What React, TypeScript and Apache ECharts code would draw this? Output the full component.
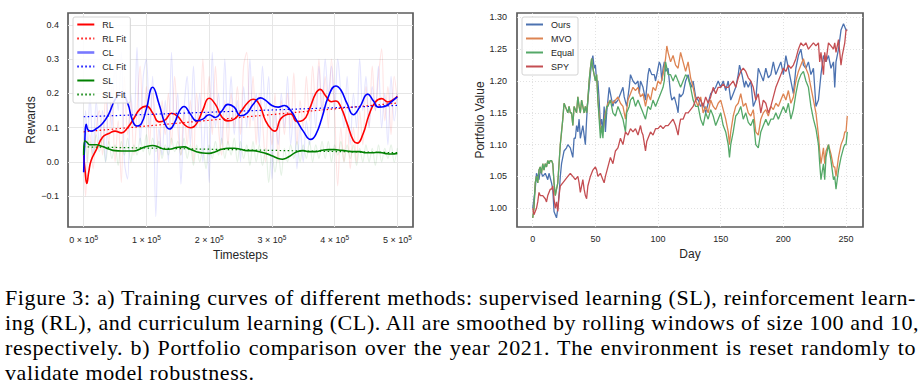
import React, { useEffect, useRef } from "react";
import * as echarts from "echarts";

document.body.style.margin = "0";

// ---------- tick labels ----------
const rewardTicks = [-0.1, 0, 0.1, 0.2, 0.3, 0.4];
const timestepTicks = [0, 100000, 200000, 300000, 400000, 500000];
const portfolioTicks = [1.0, 1.05, 1.1, 1.15, 1.2, 1.25, 1.3];
const dayTicks = [0, 50, 100, 150, 200, 250];

const leftLegend = ["RL", "RL Fit", "CL", "CL Fit", "SL", "SL Fit"];
const rightLegend = ["Ours", "MVO", "Equal", "SPY"];

// ---------- left chart: t in units of 1e5 timesteps ----------
const rlRaw = [
  [0, 0.02], [0.03, -0.1], [0.06, 0.02], [0.1, 0.08], [0.15, -0.02], [0.2, 0.1], [0.25, 0.15], [0.3, 0.02],
  [0.35, 0.2], [0.4, 0.05], [0.45, 0.22], [0.5, 0.0], [0.55, 0.12], [0.6, -0.06], [0.65, 0.25], [0.7, 0.08],
  [0.75, 0.18], [0.8, 0.02], [0.85, 0.15], [0.9, 0.28], [0.95, 0.1], [1.0, 0.22], [1.05, 0.05], [1.1, 0.2],
  [1.15, 0.12], [1.2, 0.0], [1.25, 0.18], [1.3, 0.08], [1.35, 0.2], [1.4, 0.05], [1.45, 0.25], [1.5, 0.1],
  [1.55, 0.02], [1.6, 0.15], [1.65, 0.05], [1.7, 0.18], [1.75, 0.0], [1.8, 0.2], [1.85, 0.1], [1.9, 0.3],
  [1.95, 0.12], [2.0, 0.25], [2.05, 0.08], [2.1, 0.28], [2.15, 0.1], [2.2, 0.02], [2.25, 0.18], [2.3, 0.05],
  [2.35, 0.2], [2.4, 0.1], [2.45, 0.22], [2.5, 0.08], [2.55, 0.28], [2.6, 0.32], [2.65, 0.1], [2.7, 0.25],
  [2.75, 0.05], [2.8, 0.2], [2.85, 0.12], [2.9, 0.0], [2.95, 0.15], [3.0, 0.05], [3.05, 0.2], [3.1, 0.0],
  [3.15, 0.18], [3.2, 0.08], [3.25, 0.2], [3.3, 0.1], [3.35, 0.26], [3.4, 0.05], [3.45, 0.18], [3.5, 0.1],
  [3.55, 0.25], [3.6, 0.12], [3.65, 0.28], [3.7, 0.15], [3.75, 0.3], [3.8, 0.12], [3.85, 0.25], [3.9, 0.1],
  [3.95, 0.3], [4.0, 0.15], [4.05, -0.07], [4.1, 0.1], [4.15, 0.0], [4.2, 0.12], [4.25, -0.02], [4.3, 0.1],
  [4.35, 0.0], [4.4, 0.15], [4.45, 0.05], [4.5, 0.22], [4.55, 0.1], [4.6, 0.28], [4.65, 0.15], [4.7, 0.25],
  [4.75, 0.33], [4.8, 0.12], [4.85, 0.22], [4.9, 0.08], [4.95, 0.25], [5.0, 0.18],
];
const clRaw = [
  [0, -0.03], [0.03, 0.15], [0.06, 0.05], [0.1, 0.2], [0.15, 0.02], [0.2, 0.18], [0.25, 0.05], [0.3, 0.15],
  [0.35, 0.0], [0.4, 0.25], [0.45, 0.1], [0.5, 0.3], [0.55, 0.15], [0.6, 0.32], [0.65, 0.0], [0.7, -0.05],
  [0.75, 0.2], [0.8, 0.1], [0.85, 0.335], [0.9, 0.05], [0.95, 0.25], [1.0, 0.3], [1.05, 0.1], [1.1, 0.25],
  [1.15, -0.16], [1.2, 0.1], [1.25, 0.02], [1.3, 0.18], [1.35, 0.0], [1.4, 0.32], [1.45, 0.1], [1.5, 0.2],
  [1.55, -0.065], [1.6, 0.15], [1.65, 0.25], [1.7, 0.05], [1.75, 0.28], [1.8, 0.1], [1.85, 0.2], [1.9, 0.0],
  [1.95, 0.15], [2.0, -0.06], [2.05, 0.32], [2.1, 0.1], [2.15, 0.2], [2.2, 0.05], [2.25, 0.3], [2.3, 0.1],
  [2.35, 0.25], [2.4, 0.08], [2.45, 0.18], [2.5, 0.0], [2.55, 0.22], [2.6, 0.1], [2.65, 0.3], [2.7, 0.12],
  [2.75, 0.2], [2.8, 0.05], [2.85, 0.28], [2.9, 0.15], [2.95, 0.25], [3.0, -0.05], [3.05, 0.15], [3.1, 0.05],
  [3.15, 0.2], [3.2, 0.1], [3.25, 0.25], [3.3, 0.05], [3.35, 0.15], [3.4, -0.02], [3.45, 0.1], [3.5, 0.0],
  [3.55, 0.12], [3.6, 0.05], [3.65, 0.2], [3.7, 0.1], [3.75, 0.28], [3.8, 0.15], [3.85, 0.3], [3.9, 0.2],
  [3.95, 0.28], [4.0, 0.15], [4.05, 0.3], [4.1, 0.2], [4.15, 0.1], [4.2, 0.25], [4.25, 0.05], [4.3, 0.2],
  [4.35, 0.1], [4.4, 0.3], [4.45, 0.15], [4.5, 0.25], [4.55, 0.1], [4.6, 0.22], [4.65, 0.15], [4.7, 0.28],
  [4.75, 0.1], [4.8, 0.2], [4.85, 0.05], [4.9, 0.25], [4.95, 0.12], [5.0, 0.2],
];
const slRaw = [
  [0, 0.02], [0.03, 0.07], [0.06, 0.0], [0.1, 0.06], [0.15, 0.02], [0.2, 0.08], [0.25, 0.03], [0.3, 0.07],
  [0.35, 0.0], [0.4, 0.06], [0.45, 0.01], [0.5, 0.05], [0.55, -0.01], [0.6, 0.06], [0.65, 0.02], [0.7, 0.07],
  [0.75, 0.0], [0.8, 0.05], [0.85, 0.02], [0.9, 0.07], [0.95, 0.03], [1.0, 0.08], [1.05, 0.02], [1.1, 0.07],
  [1.15, 0.03], [1.2, 0.06], [1.25, 0.01], [1.3, 0.05], [1.35, 0.02], [1.4, 0.07], [1.45, 0.03], [1.5, 0.06],
  [1.55, 0.02], [1.6, 0.07], [1.65, 0.01], [1.7, 0.05], [1.75, -0.01], [1.8, 0.05], [1.85, 0.0], [1.9, 0.04],
  [1.95, -0.02], [2.0, 0.05], [2.05, 0.01], [2.1, 0.06], [2.15, 0.02], [2.2, 0.07], [2.25, 0.01], [2.3, 0.06],
  [2.35, 0.02], [2.4, 0.07], [2.45, 0.0], [2.5, 0.06], [2.55, 0.01], [2.6, 0.05], [2.65, -0.01], [2.7, 0.06],
  [2.75, 0.0], [2.8, 0.05], [2.85, -0.01], [2.9, 0.04], [2.95, -0.06], [3.0, 0.03], [3.05, -0.03], [3.1, 0.03],
  [3.15, -0.04], [3.2, 0.04], [3.25, 0.0], [3.3, 0.05], [3.35, 0.01], [3.4, 0.06], [3.45, 0.0], [3.5, 0.05],
  [3.55, 0.01], [3.6, 0.06], [3.65, 0.0], [3.7, 0.05], [3.75, 0.01], [3.8, 0.06], [3.85, 0.01], [3.9, 0.06],
  [3.95, 0.0], [4.0, 0.05], [4.05, 0.02], [4.1, 0.06], [4.15, 0.0], [4.2, 0.05], [4.25, 0.01], [4.3, 0.05],
  [4.35, -0.01], [4.4, 0.04], [4.45, 0.0], [4.5, 0.05], [4.55, 0.0], [4.6, 0.04], [4.65, -0.01], [4.7, 0.05],
  [4.75, 0.0], [4.8, 0.04], [4.85, 0.01], [4.9, 0.05], [4.95, 0.0], [5.0, 0.04],
];
const rlSmooth = [
  [0, 0.02], [0.02, -0.02], [0.05, -0.063], [0.08, -0.03], [0.12, 0.005], [0.2, 0.035], [0.3, 0.072],
  [0.4, 0.083], [0.5, 0.09], [0.6, 0.085], [0.7, 0.1], [0.8, 0.127], [0.9, 0.155], [1.0, 0.163], [1.1, 0.143],
  [1.2, 0.117], [1.3, 0.123], [1.4, 0.142], [1.5, 0.133], [1.6, 0.11], [1.7, 0.1], [1.8, 0.112], [1.9, 0.152],
  [2.0, 0.186], [2.1, 0.168], [2.2, 0.132], [2.3, 0.12], [2.4, 0.125], [2.5, 0.145], [2.6, 0.17], [2.7, 0.183],
  [2.8, 0.168], [2.9, 0.12], [3.0, 0.094], [3.05, 0.09], [3.15, 0.128], [3.3, 0.14], [3.4, 0.118], [3.5, 0.122],
  [3.6, 0.155], [3.7, 0.2], [3.77, 0.212], [3.85, 0.195], [3.95, 0.176], [4.02, 0.178], [4.1, 0.16], [4.2, 0.112],
  [4.3, 0.062], [4.36, 0.055], [4.45, 0.08], [4.55, 0.138], [4.65, 0.175], [4.75, 0.185], [4.85, 0.175],
  [4.95, 0.184], [5.0, 0.192],
];
const clSmooth = [
  [0, -0.03], [0.02, 0.07], [0.04, 0.11], [0.07, 0.093], [0.12, 0.09], [0.2, 0.097], [0.3, 0.112], [0.4, 0.14],
  [0.5, 0.182], [0.6, 0.203], [0.7, 0.172], [0.78, 0.12], [0.85, 0.105], [0.92, 0.112], [1.0, 0.155], [1.1, 0.218],
  [1.2, 0.17], [1.3, 0.11], [1.37, 0.096], [1.45, 0.115], [1.53, 0.15], [1.6, 0.162], [1.7, 0.14], [1.8, 0.12],
  [1.9, 0.125], [2.0, 0.138], [2.1, 0.13], [2.2, 0.148], [2.3, 0.168], [2.4, 0.16], [2.5, 0.135], [2.6, 0.142],
  [2.7, 0.168], [2.82, 0.187], [2.9, 0.18], [3.0, 0.165], [3.1, 0.16], [3.2, 0.165], [3.3, 0.15], [3.4, 0.12],
  [3.5, 0.09], [3.62, 0.066], [3.7, 0.08], [3.8, 0.13], [3.9, 0.19], [4.02, 0.222], [4.1, 0.21], [4.2, 0.17],
  [4.3, 0.138], [4.4, 0.16], [4.53, 0.198], [4.62, 0.178], [4.7, 0.16], [4.8, 0.162], [4.9, 0.175], [5.0, 0.19],
];
const slSmooth = [
  [0, 0.02], [0.02, 0.062], [0.05, 0.058], [0.1, 0.05], [0.2, 0.05], [0.3, 0.045], [0.4, 0.038], [0.5, 0.033],
  [0.6, 0.032], [0.7, 0.032], [0.8, 0.032], [0.9, 0.038], [1.0, 0.045], [1.1, 0.048], [1.2, 0.043], [1.3, 0.037],
  [1.4, 0.038], [1.5, 0.043], [1.6, 0.044], [1.7, 0.037], [1.8, 0.03], [1.9, 0.026], [2.0, 0.025], [2.1, 0.03],
  [2.2, 0.037], [2.3, 0.04], [2.4, 0.04], [2.5, 0.037], [2.6, 0.033], [2.7, 0.033], [2.8, 0.03], [2.9, 0.025],
  [3.0, 0.018], [3.1, 0.01], [3.17, 0.008], [3.27, 0.015], [3.4, 0.03], [3.5, 0.033], [3.6, 0.03], [3.7, 0.03],
  [3.8, 0.034], [3.9, 0.036], [4.0, 0.036], [4.1, 0.034], [4.2, 0.032], [4.3, 0.03], [4.4, 0.03], [4.5, 0.027],
  [4.6, 0.027], [4.7, 0.028], [4.8, 0.025], [4.9, 0.023], [5.0, 0.025],
];
const rlFit = [[0, 0.088], [5, 0.172]];
const clFit = [[0, 0.132], [5, 0.165]];
const slFit = [[0, 0.044], [5, 0.027]];

// ---------- right chart: [day, portfolio value] ----------
const ours = [
  [0, 1.0], [2, 1.03], [3, 1.055], [5, 1.045], [6, 1.06], [8, 1.05], [10, 1.055], [12, 1.045], [13, 1.055],
  [15, 1.04], [16, 1.03], [17, 0.995], [18, 0.99], [19, 0.985], [20, 1.0], [21, 1.02], [22, 1.05], [23, 1.07],
  [25, 1.09], [27, 1.095], [28, 1.1], [30, 1.095], [32, 1.08], [33, 1.11], [34, 1.11], [35, 1.13], [36, 1.12],
  [37, 1.14], [38, 1.11], [40, 1.13], [42, 1.1], [43, 1.14], [44, 1.17], [45, 1.19], [46, 1.21], [47, 1.23],
  [48, 1.24], [49, 1.22], [50, 1.225], [51, 1.2], [52, 1.2], [53, 1.17], [54, 1.13], [55, 1.14], [56, 1.12],
  [57, 1.16], [58, 1.12], [59, 1.15], [60, 1.17], [61, 1.19], [62, 1.18], [64, 1.16], [65, 1.17], [66, 1.165],
  [68, 1.17], [70, 1.18], [72, 1.19], [73, 1.175], [75, 1.16], [77, 1.19], [78, 1.21], [80, 1.2], [82, 1.195],
  [84, 1.2], [85, 1.18], [86, 1.2], [88, 1.19], [90, 1.17], [92, 1.21], [93, 1.22], [95, 1.21], [97, 1.21],
  [98, 1.2], [100, 1.22], [101, 1.23], [102, 1.225], [103, 1.2], [104, 1.22], [105, 1.23], [106, 1.215],
  [108, 1.22], [110, 1.18], [111, 1.17], [113, 1.175], [115, 1.16], [116, 1.15], [117, 1.18], [118, 1.175],
  [120, 1.18], [122, 1.2], [124, 1.21], [125, 1.2], [127, 1.19], [128, 1.2], [130, 1.175], [132, 1.17],
  [134, 1.16], [136, 1.165], [138, 1.15], [140, 1.165], [142, 1.18], [144, 1.185], [146, 1.19], [148, 1.2],
  [150, 1.19], [152, 1.2], [154, 1.185], [156, 1.2], [158, 1.17], [160, 1.18], [162, 1.19], [164, 1.21],
  [165, 1.225], [167, 1.21], [169, 1.19], [170, 1.2], [172, 1.19], [174, 1.2], [176, 1.16], [178, 1.17],
  [180, 1.22], [182, 1.21], [184, 1.2], [186, 1.22], [188, 1.205], [190, 1.21], [192, 1.23], [194, 1.21],
  [196, 1.22], [198, 1.23], [200, 1.21], [202, 1.24], [204, 1.22], [206, 1.2], [208, 1.18], [210, 1.22],
  [212, 1.24], [214, 1.25], [216, 1.225], [218, 1.22], [220, 1.23], [222, 1.21], [224, 1.22], [226, 1.16],
  [228, 1.17], [230, 1.21], [232, 1.24], [234, 1.23], [236, 1.24], [238, 1.22], [240, 1.23], [241, 1.19],
  [242, 1.23], [244, 1.25], [246, 1.28], [248, 1.29], [250, 1.28], [251, 1.28],
];
const mvo = [
  [0, 0.985], [1, 1.0], [2, 1.04], [3, 1.05], [4, 1.04], [5, 1.06], [6, 1.065], [7, 1.055], [8, 1.07], [9, 1.06],
  [10, 1.07], [11, 1.065], [12, 1.075], [13, 1.07], [14, 1.075], [15, 1.075], [16, 1.07], [17, 1.04], [18, 1.02],
  [19, 1.03], [20, 1.04], [21, 1.07], [22, 1.1], [23, 1.12], [24, 1.14], [25, 1.165], [26, 1.16], [27, 1.155],
  [28, 1.15], [29, 1.16], [30, 1.15], [31, 1.15], [32, 1.13], [33, 1.16], [34, 1.155], [35, 1.15], [36, 1.175],
  [37, 1.16], [38, 1.15], [39, 1.17], [40, 1.16], [41, 1.15], [42, 1.16], [43, 1.15], [44, 1.17], [45, 1.2],
  [46, 1.22], [47, 1.235], [48, 1.22], [49, 1.21], [50, 1.2], [51, 1.21], [52, 1.17], [54, 1.125], [56, 1.12],
  [58, 1.15], [60, 1.165], [62, 1.17], [64, 1.165], [66, 1.17], [68, 1.175], [70, 1.165], [72, 1.16], [74, 1.14],
  [76, 1.17], [78, 1.18], [80, 1.19], [82, 1.185], [84, 1.19], [86, 1.175], [88, 1.18], [90, 1.16], [92, 1.18],
  [94, 1.17], [96, 1.19], [98, 1.185], [100, 1.2], [102, 1.195], [104, 1.21], [106, 1.235], [107, 1.255],
  [108, 1.245], [110, 1.23], [112, 1.24], [114, 1.225], [116, 1.22], [118, 1.245], [120, 1.23], [122, 1.215],
  [124, 1.23], [126, 1.205], [128, 1.19], [130, 1.17], [132, 1.16], [134, 1.175], [136, 1.15], [138, 1.16],
  [140, 1.15], [142, 1.17], [144, 1.16], [146, 1.155], [148, 1.165], [150, 1.17], [152, 1.155], [154, 1.14],
  [156, 1.12], [157, 1.1], [158, 1.12], [160, 1.145], [162, 1.16], [164, 1.165], [166, 1.18], [168, 1.16],
  [170, 1.165], [172, 1.15], [174, 1.145], [176, 1.155], [178, 1.12], [180, 1.115], [182, 1.14], [184, 1.15],
  [186, 1.155], [188, 1.145], [190, 1.16], [192, 1.155], [194, 1.165], [196, 1.16], [198, 1.17], [200, 1.18],
  [202, 1.17], [204, 1.185], [206, 1.165], [208, 1.175], [210, 1.2], [212, 1.215], [214, 1.225], [216, 1.235],
  [218, 1.22], [220, 1.21], [222, 1.19], [224, 1.17], [226, 1.15], [228, 1.115], [229, 1.09], [230, 1.07],
  [232, 1.095], [233, 1.07], [234, 1.09], [236, 1.1], [238, 1.085], [240, 1.065], [241, 1.065], [242, 1.05],
  [244, 1.08], [246, 1.1], [248, 1.11], [249, 1.12], [250, 1.12], [251, 1.145],
];
const equal = [
  [0, 0.985], [1, 1.0], [2, 1.04], [3, 1.05], [4, 1.04], [5, 1.06], [6, 1.065], [7, 1.055], [8, 1.07], [9, 1.06],
  [10, 1.07], [11, 1.065], [12, 1.075], [13, 1.07], [14, 1.075], [15, 1.075], [16, 1.07], [17, 1.04], [18, 1.02],
  [19, 1.03], [20, 1.04], [21, 1.07], [22, 1.1], [23, 1.12], [24, 1.14], [25, 1.165], [26, 1.16], [27, 1.155],
  [28, 1.15], [29, 1.16], [30, 1.15], [31, 1.15], [32, 1.13], [33, 1.16], [34, 1.155], [35, 1.15], [36, 1.175],
  [37, 1.16], [38, 1.15], [39, 1.17], [40, 1.16], [41, 1.15], [42, 1.16], [43, 1.15], [44, 1.17], [45, 1.2],
  [46, 1.22], [47, 1.235], [48, 1.22], [49, 1.21], [50, 1.2], [51, 1.21], [52, 1.17], [53, 1.14], [54, 1.11],
  [55, 1.13], [56, 1.11], [57, 1.14], [58, 1.14], [59, 1.16], [60, 1.16], [62, 1.17], [64, 1.15], [66, 1.145],
  [68, 1.16], [70, 1.15], [72, 1.14], [73, 1.13], [74, 1.12], [75, 1.15], [77, 1.16], [78, 1.17], [80, 1.175],
  [82, 1.16], [84, 1.17], [86, 1.16], [88, 1.15], [90, 1.14], [92, 1.16], [94, 1.155], [96, 1.17], [98, 1.16],
  [100, 1.17], [102, 1.18], [104, 1.19], [105, 1.2], [106, 1.23], [107, 1.22], [108, 1.21], [110, 1.21],
  [112, 1.2], [114, 1.21], [116, 1.2], [118, 1.19], [120, 1.2], [122, 1.21], [124, 1.205], [126, 1.19],
  [128, 1.17], [130, 1.16], [132, 1.16], [134, 1.14], [136, 1.13], [138, 1.15], [140, 1.14], [142, 1.155],
  [144, 1.145], [146, 1.13], [148, 1.14], [150, 1.15], [152, 1.13], [154, 1.12], [156, 1.1], [157, 1.08],
  [158, 1.1], [160, 1.12], [162, 1.145], [164, 1.15], [166, 1.16], [168, 1.14], [170, 1.15], [172, 1.135],
  [174, 1.13], [176, 1.14], [178, 1.1], [180, 1.095], [182, 1.12], [184, 1.13], [186, 1.14], [188, 1.13],
  [190, 1.14], [192, 1.14], [194, 1.15], [196, 1.14], [198, 1.15], [200, 1.16], [202, 1.15], [204, 1.165],
  [206, 1.14], [208, 1.155], [210, 1.18], [212, 1.2], [214, 1.21], [216, 1.215], [218, 1.2], [220, 1.19],
  [222, 1.16], [224, 1.14], [226, 1.125], [228, 1.1], [229, 1.07], [230, 1.045], [232, 1.07], [233, 1.045],
  [234, 1.08], [236, 1.1], [238, 1.075], [240, 1.045], [241, 1.05], [242, 1.03], [244, 1.06], [246, 1.08],
  [248, 1.095], [249, 1.1], [250, 1.1], [251, 1.12],
];
const spy = [
  [0, 1.0], [1, 0.99], [2, 0.995], [3, 1.0], [4, 1.01], [5, 1.025], [6, 1.02], [8, 1.02], [10, 1.015], [11, 1.01],
  [12, 1.02], [14, 1.03], [15, 1.03], [16, 1.035], [17, 1.015], [18, 1.0], [19, 1.01], [20, 0.995], [21, 1.02],
  [22, 1.035], [24, 1.04], [26, 1.045], [28, 1.05], [30, 1.055], [32, 1.05], [34, 1.045], [36, 1.05], [37, 1.04],
  [38, 1.025], [40, 1.045], [41, 1.03], [42, 1.02], [43, 1.015], [44, 1.035], [46, 1.05], [48, 1.06], [50, 1.065],
  [51, 1.06], [52, 1.05], [54, 1.055], [56, 1.045], [57, 1.04], [58, 1.05], [60, 1.065], [62, 1.08], [64, 1.07],
  [66, 1.09], [68, 1.095], [70, 1.11], [72, 1.1], [74, 1.12], [76, 1.115], [78, 1.125], [80, 1.12], [82, 1.125],
  [84, 1.115], [86, 1.13], [87, 1.12], [88, 1.115], [90, 1.09], [91, 1.105], [92, 1.11], [94, 1.12], [96, 1.115],
  [98, 1.125], [100, 1.125], [102, 1.13], [104, 1.125], [106, 1.13], [108, 1.13], [110, 1.135], [112, 1.14],
  [114, 1.13], [116, 1.115], [117, 1.13], [118, 1.14], [120, 1.14], [122, 1.15], [124, 1.15], [126, 1.155],
  [128, 1.16], [130, 1.17], [132, 1.175], [134, 1.17], [136, 1.16], [138, 1.175], [140, 1.165], [142, 1.175],
  [144, 1.19], [146, 1.18], [148, 1.19], [150, 1.19], [152, 1.195], [154, 1.19], [156, 1.19], [158, 1.195],
  [160, 1.2], [162, 1.19], [164, 1.205], [166, 1.215], [168, 1.22], [170, 1.215], [172, 1.205], [174, 1.2],
  [176, 1.19], [178, 1.17], [180, 1.18], [182, 1.15], [184, 1.17], [186, 1.165], [188, 1.15], [190, 1.16],
  [192, 1.175], [194, 1.19], [196, 1.2], [198, 1.21], [200, 1.22], [202, 1.215], [204, 1.225], [206, 1.22],
  [208, 1.225], [210, 1.235], [212, 1.25], [214, 1.26], [216, 1.255], [218, 1.26], [220, 1.25], [222, 1.255],
  [224, 1.26], [226, 1.255], [228, 1.26], [229, 1.23], [230, 1.245], [232, 1.21], [233, 1.245], [234, 1.23],
  [236, 1.26], [238, 1.255], [240, 1.25], [241, 1.26], [242, 1.245], [244, 1.265], [246, 1.225], [247, 1.24],
  [248, 1.25], [249, 1.26], [250, 1.28], [251, 1.28],
];

const captionLines = [
  "Figure 3:  a) Training curves of different methods:  supervised learning (SL), reinforcement learn-",
  "ing (RL), and curriculum learning (CL). All are smoothed by rolling windows of size 100 and 10,",
  "respectively.  b) Portfolio comparison over the year 2021.  The environment is reset randomly to",
  "validate model robustness.",
];

const FONT = "'Liberation Sans', Arial, sans-serif";
const TXT = "#262626";

const toT = (arr: number[][]) => arr.map(([t, v]) => [t * 1e5, v]);

function lineSeries(name: string, data: number[][], axis: number, color: string, width: number, extra: any = {}) {
  return {
    type: "line",
    name,
    data,
    xAxisIndex: axis,
    yAxisIndex: axis,
    symbol: "none",
    showSymbol: false,
    silent: true,
    lineStyle: { color, width, ...(extra.lineStyle || {}) },
    itemStyle: { color },
    smooth: extra.smooth ?? false,
    z: extra.z ?? 2,
  };
}

function legendBase(left: number) {
  return {
    orient: "vertical", left, top: 17, padding: [3, 4, 4, 3],
    itemWidth: 17, itemHeight: 8, itemGap: 5,
    backgroundColor: "rgba(255,255,255,0.85)", borderColor: "#d4d4d4", borderWidth: 1, borderRadius: 2,
    textStyle: { fontSize: 9, color: TXT, fontFamily: FONT, padding: [0, 0, 0, 3] },
    itemStyle: { opacity: 0, borderWidth: 0 },
    selectedMode: false,
  };
}

function buildOption(): any {
  const fmtMinus = (v: number, d: number) => v.toFixed(d).replace("-", "\u2212");
  const dotted = [1.5, 2.5];
  return {
    animation: false,
    backgroundColor: "#ffffff",
    textStyle: { fontFamily: FONT },
    grid: [
      { left: 68, top: 13, width: 345, height: 214, show: true, borderColor: "#5c5c5c", borderWidth: 1.7, backgroundColor: "transparent" },
      { left: 517, top: 13, width: 346, height: 214, show: true, borderColor: "#5c5c5c", borderWidth: 1.7, backgroundColor: "transparent" },
    ],
    xAxis: [
      {
        gridIndex: 0, type: "value", min: -25000, max: 525000,
        axisLine: { show: false }, axisTick: { show: false, customValues: timestepTicks },
        axisLabel: {
          customValues: timestepTicks, margin: 7, color: TXT,
          formatter: (v: number) => `{a|${Math.round(v / 1e5)} × 10}{b|5}`,
          rich: { a: { fontSize: 9, color: TXT, fontFamily: FONT }, b: { fontSize: 6.5, color: TXT, fontFamily: FONT, verticalAlign: "top", padding: [0, 0, 5, 0] } },
        },
        splitLine: { show: true, lineStyle: { color: "#e6e6e6", width: 1 } },
        name: "Timesteps", nameLocation: "middle", nameGap: 20,
        nameTextStyle: { fontSize: 12, color: TXT, fontFamily: FONT },
      },
      {
        gridIndex: 1, type: "value", min: -12.55, max: 263.55,
        axisLine: { show: false }, axisTick: { show: false, customValues: dayTicks },
        axisLabel: { customValues: dayTicks, margin: 7, color: TXT, fontSize: 9, fontFamily: FONT },
        splitLine: { show: true, lineStyle: { color: "#dadada", width: 0.8, type: [1, 2] } },
        name: "Day", nameLocation: "middle", nameGap: 18,
        nameTextStyle: { fontSize: 12, color: TXT, fontFamily: FONT },
      },
    ],
    yAxis: [
      {
        gridIndex: 0, type: "value", min: -0.19, max: 0.435,
        axisLine: { show: false }, axisTick: { show: false, customValues: rewardTicks },
        axisLabel: { customValues: rewardTicks, margin: 9, color: TXT, fontSize: 9, fontFamily: FONT, formatter: (v: number) => fmtMinus(v, 1) },
        splitLine: { show: true, lineStyle: { color: "#e6e6e6", width: 1 } },
        name: "Rewards", nameLocation: "middle", nameGap: 30, nameRotate: 90,
        nameTextStyle: { fontSize: 12, color: TXT, fontFamily: FONT },
      },
      {
        gridIndex: 1, type: "value", min: 0.9706, max: 1.3068,
        axisLine: { show: false }, axisTick: { show: false, customValues: portfolioTicks },
        axisLabel: { customValues: portfolioTicks, margin: 10, color: TXT, fontSize: 9, fontFamily: FONT, formatter: (v: number) => v.toFixed(2) },
        splitLine: { show: true, lineStyle: { color: "#dadada", width: 0.8, type: [1, 2] } },
        name: "Portfolio Value", nameLocation: "middle", nameGap: 29, nameRotate: 90,
        nameTextStyle: { fontSize: 12, color: TXT, fontFamily: FONT },
      },
    ],
    legend: [
      {
        ...legendBase(73),
        data: leftLegend.map((name) =>
          name === "CL" ? { name, lineStyle: { color: "#7878ff", width: 2.6 } } : { name }
        ),
      },
      {
        ...legendBase(522),
        data: rightLegend.map((name) => ({ name })),
      },
    ],
    series: [
      lineSeries("rl-raw", toT(rlRaw), 0, "rgba(255,0,0,0.1)", 1.2, { smooth: 0.35, z: 1 }),
      lineSeries("cl-raw", toT(clRaw), 0, "rgba(0,0,255,0.1)", 1.2, { smooth: 0.35, z: 1 }),
      lineSeries("sl-raw", toT(slRaw), 0, "rgba(0,128,0,0.1)", 1.2, { smooth: 0.35, z: 1 }),
      lineSeries("RL", toT(rlSmooth), 0, "#ff0000", 1.6, { smooth: 0.5 }),
      lineSeries("RL Fit", toT(rlFit), 0, "#ff0000", 1.2, { lineStyle: { type: dotted } }),
      lineSeries("CL", toT(clSmooth), 0, "#0000ff", 1.6, { smooth: 0.5 }),
      lineSeries("CL Fit", toT(clFit), 0, "#0000ff", 1.2, { lineStyle: { type: dotted } }),
      lineSeries("SL", toT(slSmooth), 0, "#008000", 1.6, { smooth: 0.5 }),
      lineSeries("SL Fit", toT(slFit), 0, "#008000", 1.2, { lineStyle: { type: dotted } }),
      lineSeries("Ours", ours, 1, "#4c72b0", 1.3),
      lineSeries("MVO", mvo, 1, "#dd8452", 1.3),
      lineSeries("Equal", equal, 1, "#55a868", 1.3),
      lineSeries("SPY", spy, 1, "#c44e52", 1.3),
    ],
  };
}

export default function App() {
  const ref = useRef<HTMLDivElement>(null);
  useEffect(() => {
    if (!ref.current) return;
    const chart = echarts.init(ref.current, null, { renderer: "svg" });
    chart.setOption(buildOption());
    return () => chart.dispose();
  }, []);
  return (
    <div style={{ position: "relative", width: 922, height: 389, background: "#ffffff", overflow: "hidden" }}>
      <div ref={ref} style={{ position: "absolute", left: 0, top: 0, width: 922, height: 270 }} />
      <div
        style={{
          position: "absolute", left: 5, top: 285, width: 911,
          fontFamily: "'Liberation Serif', 'Times New Roman', serif", fontSize: 22, lineHeight: "25px",
          letterSpacing: "0.6px", color: "#000",
        }}
      >
        {captionLines.map((l, i) => (
          <div
            key={i}
            style={{
              whiteSpace: "nowrap",
              textAlign: i < 3 ? "justify" : "left",
              textAlignLast: i < 3 ? "justify" : "left",
            }}
          >
            {l}
          </div>
        ))}
      </div>
    </div>
  );
}
